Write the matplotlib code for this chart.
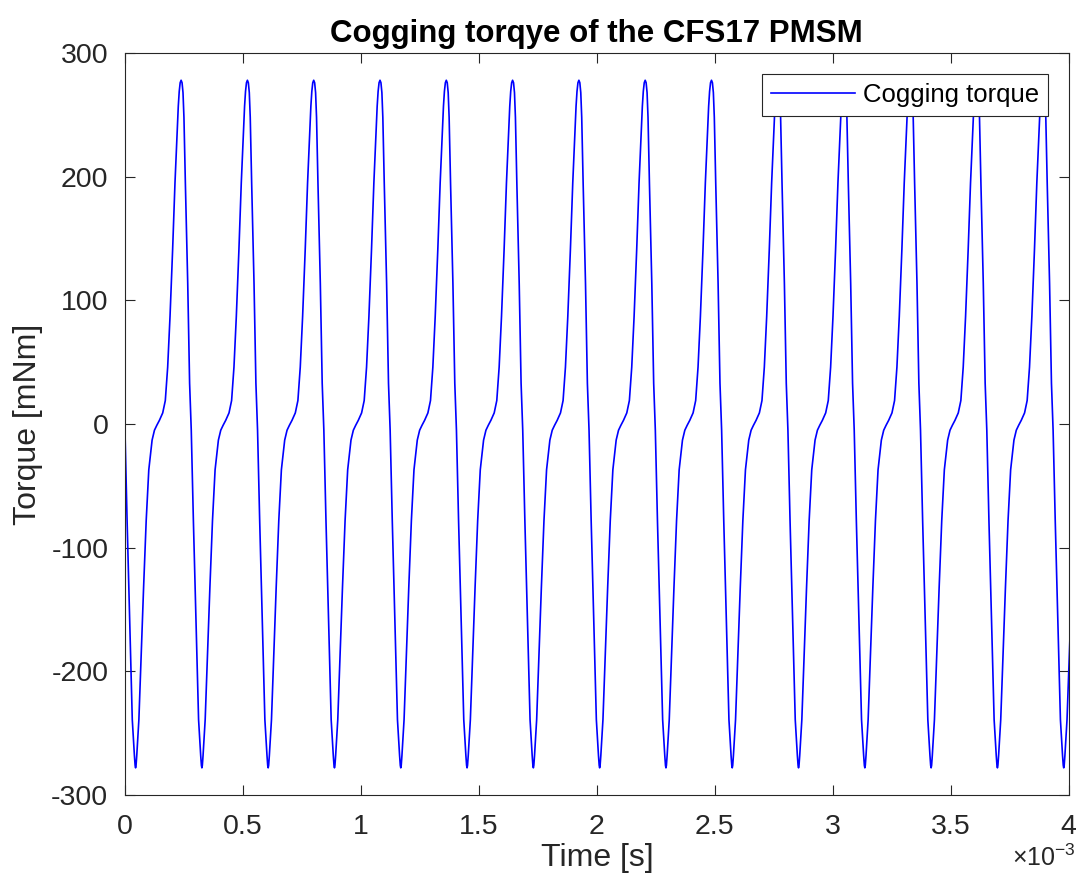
import matplotlib
matplotlib.use("Agg")
import matplotlib.pyplot as plt
import numpy as np
from matplotlib.ticker import FuncFormatter

CYCLE_MS = [0.000, 0.002, 0.005, 0.014, 0.024, 0.034, 0.045, 0.056, 0.070,
            0.080, 0.090, 0.101, 0.115, 0.126, 0.136, 0.146, 0.157, 0.167,
            0.176, 0.181, 0.185, 0.189, 0.193, 0.197, 0.201, 0.205, 0.211,
            0.221, 0.229, 0.236, 0.245, 0.256, 0.267, 0.276, 0.279]
CYCLE_MNM = [-278, -276, -268, -239, -185, -132, -78, -37, -13,
             -5, -1, 3, 9, 19, 46, 87, 141, 195,
             235, 257, 269, 276, 278, 276, 268, 248, 195,
             114, 33, -5, -78, -158, -239, -268, -276]
PERIOD_MS = 0.281
FIRST_TROUGH_MS = 0.045
CYCLE_INDEX = list(range(-1, 15))

X_TICKS = [0, 0.5e-3, 1e-3, 1.5e-3, 2e-3, 2.5e-3, 3e-3, 3.5e-3, 4e-3]
Y_TICKS = [-300, -200, -100, 0, 100, 200, 300]

TXT = "#262626"

plt.rcParams["font.family"] = ["Liberation Sans", "DejaVu Sans"]
plt.rcParams["axes.unicode_minus"] = False
plt.rcParams["mathtext.fontset"] = "custom"
plt.rcParams["mathtext.rm"] = "Liberation Sans"

time_s = np.concatenate(
    [(FIRST_TROUGH_MS + n * PERIOD_MS + np.array(CYCLE_MS)) * 1e-3 for n in CYCLE_INDEX]
)
torque = np.tile(np.array(CYCLE_MNM, dtype=float), len(CYCLE_INDEX))

fig = plt.figure(figsize=(10.81, 8.90), dpi=100)
ax = fig.add_axes([0.1156, 0.1067, 0.8730, 0.8337])

ax.plot(time_s, torque, color=(0, 0, 1), linewidth=1.2, label="Cogging torque")

ax.set_xlim(0, 4e-3)
ax.set_ylim(-300, 300)
ax.set_xticks(X_TICKS)
ax.set_yticks(Y_TICKS)
ax.xaxis.set_major_formatter(FuncFormatter(lambda v, p: f"{v * 1e3:g}"))

ax.tick_params(direction="in", length=7, width=0.8, top=True, right=True,
               labelsize=20.5, colors=TXT)
ax.tick_params(axis="x", pad=14)
ax.tick_params(axis="y", pad=12)
for spine in ax.spines.values():
    spine.set_color(TXT)
    spine.set_linewidth(0.8)

ax.set_xlabel("Time [s]", fontsize=23, color=TXT, labelpad=2)
ax.set_ylabel("Torque [mNm]", fontsize=23, color=TXT, labelpad=6)
ax.set_title("Cogging torqye of the CFS17 PMSM", fontsize=22.5,
             fontweight="bold", color="black", pad=8)

fig.text(0.995, 0.027, r"$\times$10$^{\mathrm{-3}}$", fontsize=18, color=TXT,
         ha="right", va="baseline")

leg = ax.legend(loc="upper right", fontsize=18.5, fancybox=False,
                framealpha=1, edgecolor=TXT, handlelength=3.3,
                handletextpad=0.3, borderpad=0.35, borderaxespad=0.8)
leg.get_frame().set_linewidth(0.8)

fig.savefig("out.png", dpi=100)
